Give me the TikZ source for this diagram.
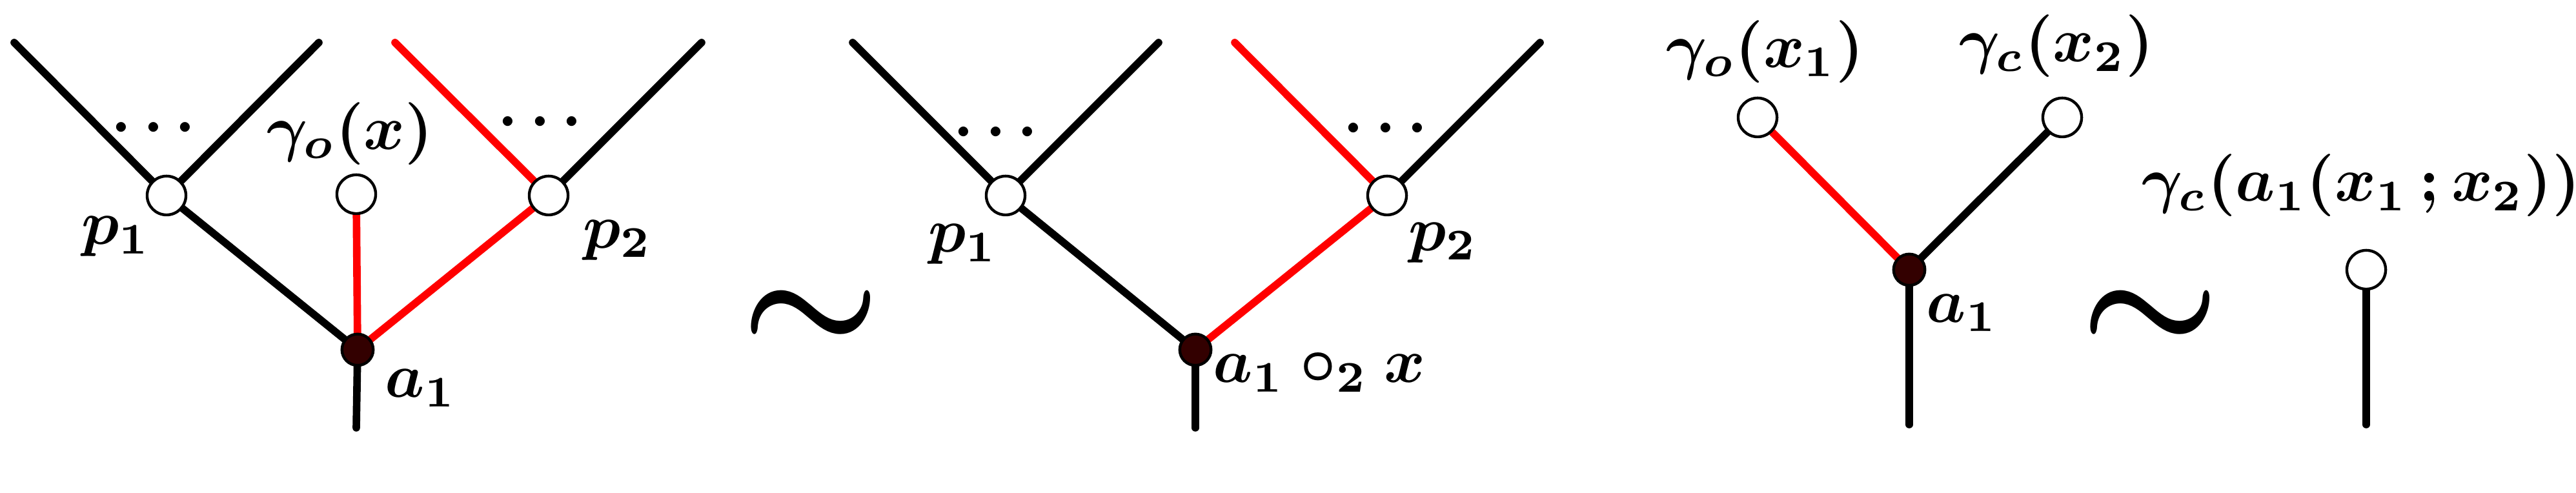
\documentclass[tikz,border=0pt]{standalone}
\usepackage[RGB]{xcolor}
\usepackage{amsmath}
\usepackage{tikz}
\usetikzlibrary{backgrounds}
\definecolor{R}{RGB}{255,0,0}
\definecolor{A}{RGB}{51,0,0}
\tikzset{
  white vertex/.style={circle,draw,line width=0.45pt,fill=white,inner sep=0pt,minimum size=6.2pt},
  black vertex/.style={circle,draw,line width=0.45pt,fill=A,inner sep=0pt,minimum size=5pt},
  thickedge/.style={line width=1.2pt,line cap=round},
  lab/.style={font=\boldmath},
  equivsign/.style={font=\Huge\boldmath}
}
\newcommand{\drawthick}{\draw[thickedge]}
\newcommand{\drawred}{\draw[thickedge,R]}

\begin{document}
\begin{tikzpicture}[x=0.3624cm,y=0.3624cm]
\useasboundingbox (0,0) rectangle (39.91,7.64);
% first tree
\node[white vertex] (Ap1) at (2.58,4.61) {};
\node[white vertex] (Ax) at (5.52,4.63) {};
\node[white vertex] (Ap2) at (8.50,4.61) {};
\node[black vertex] (Aa) at (5.54,2.22) {};
\coordinate (Ar) at (5.52,1.01);
\coordinate (Al1) at (0.22,6.98); \coordinate (Al2) at (4.94,6.98);
\coordinate (Al3) at (6.12,6.98); \coordinate (Al4) at (10.87,6.98);
\node[lab] (Ap1lab) at (1.80,3.975) {$p_1$};
\node[lab] (Ap2lab) at (9.57,3.92) {$p_2$};
\node[lab] (Aalab) at (6.52,1.625) {$a_1$};
\node[lab] (Axlab) at (5.42,5.57) {$\gamma_o(x)$};
\node[lab] (Ad1) at (2.47,5.65) {$\cdots$};
\node[lab] (Ad2) at (8.46,5.74) {$\cdots$};
\begin{scope}[on background layer]
\drawthick (Al1)--(Ap1); \drawthick (Al2)--(Ap1); \drawthick (Al4)--(Ap2);
\drawthick (Ap1)--(Aa); \drawthick (Aa)--(Ar);
\drawred (Ax)--(Aa); \drawred (Ap2)--(Aa); \drawred (Al3)--(Ap2);
\end{scope}
\node[equivsign] (sim1) at (12.56,2.67) {$\sim$};
% second tree
\node[white vertex] (Bp1) at (15.58,4.61) {};
\node[white vertex] (Bp2) at (21.49,4.61) {};
\node[black vertex] (Ba) at (18.52,2.22) {};
\coordinate (Br) at (18.52,1.01);
\coordinate (Bl1) at (13.21,6.98); \coordinate (Bl2) at (17.95,6.98);
\coordinate (Bl3) at (19.13,6.98); \coordinate (Bl4) at (23.86,6.98);
\node[lab] (Bp1lab) at (14.92,3.855) {$p_1$};
\node[lab] (Bp2lab) at (22.36,3.88) {$p_2$};
\node[lab] (Balab) at (20.44,1.87) {$a_1\circ_2 x$};
\node[lab] (Bd1) at (15.52,5.58) {$\cdots$};
\node[lab] (Bd2) at (21.56,5.64) {$\cdots$};
\begin{scope}[on background layer]
\drawthick (Bl1)--(Bp1); \drawthick (Bl2)--(Bp1); \drawthick (Bl4)--(Bp2);
\drawthick (Bp1)--(Ba); \drawthick (Ba)--(Br);
\drawred (Bp2)--(Ba); \drawred (Bl3)--(Bp2);
\end{scope}
% corolla
\node[white vertex] (Cx1) at (27.23,5.82) {};
\node[white vertex] (Cx2) at (31.95,5.82) {};
\node[black vertex] (Ca) at (29.58,3.46) {};
\coordinate (Cr) at (29.58,1.06);
\node[lab] (Cx1lab) at (27.35,6.84) {$\gamma_o(x_1)$};
\node[lab] (Cx2lab) at (31.86,6.925) {$\gamma_c(x_2)$};
\node[lab] (Calab) at (30.40,2.79) {$a_1$};
\begin{scope}[on background layer]
\drawred (Cx1)--(Ca); \drawthick (Cx2)--(Ca); \drawthick (Ca)--(Cr);
\end{scope}
\node[equivsign] (sim2) at (33.31,2.67) {$\sim$};
% single closed leaf
\node[white vertex] (Dc) at (36.66,3.46) {};
\coordinate (Dr) at (36.66,1.06);
\node[lab] (Dclab) at (36.58,4.765) {$\gamma_c(a_1(x_1\,;x_2))$};
\begin{scope}[on background layer]
\drawthick (Dc)--(Dr);
\end{scope}
\end{tikzpicture}
\end{document}
